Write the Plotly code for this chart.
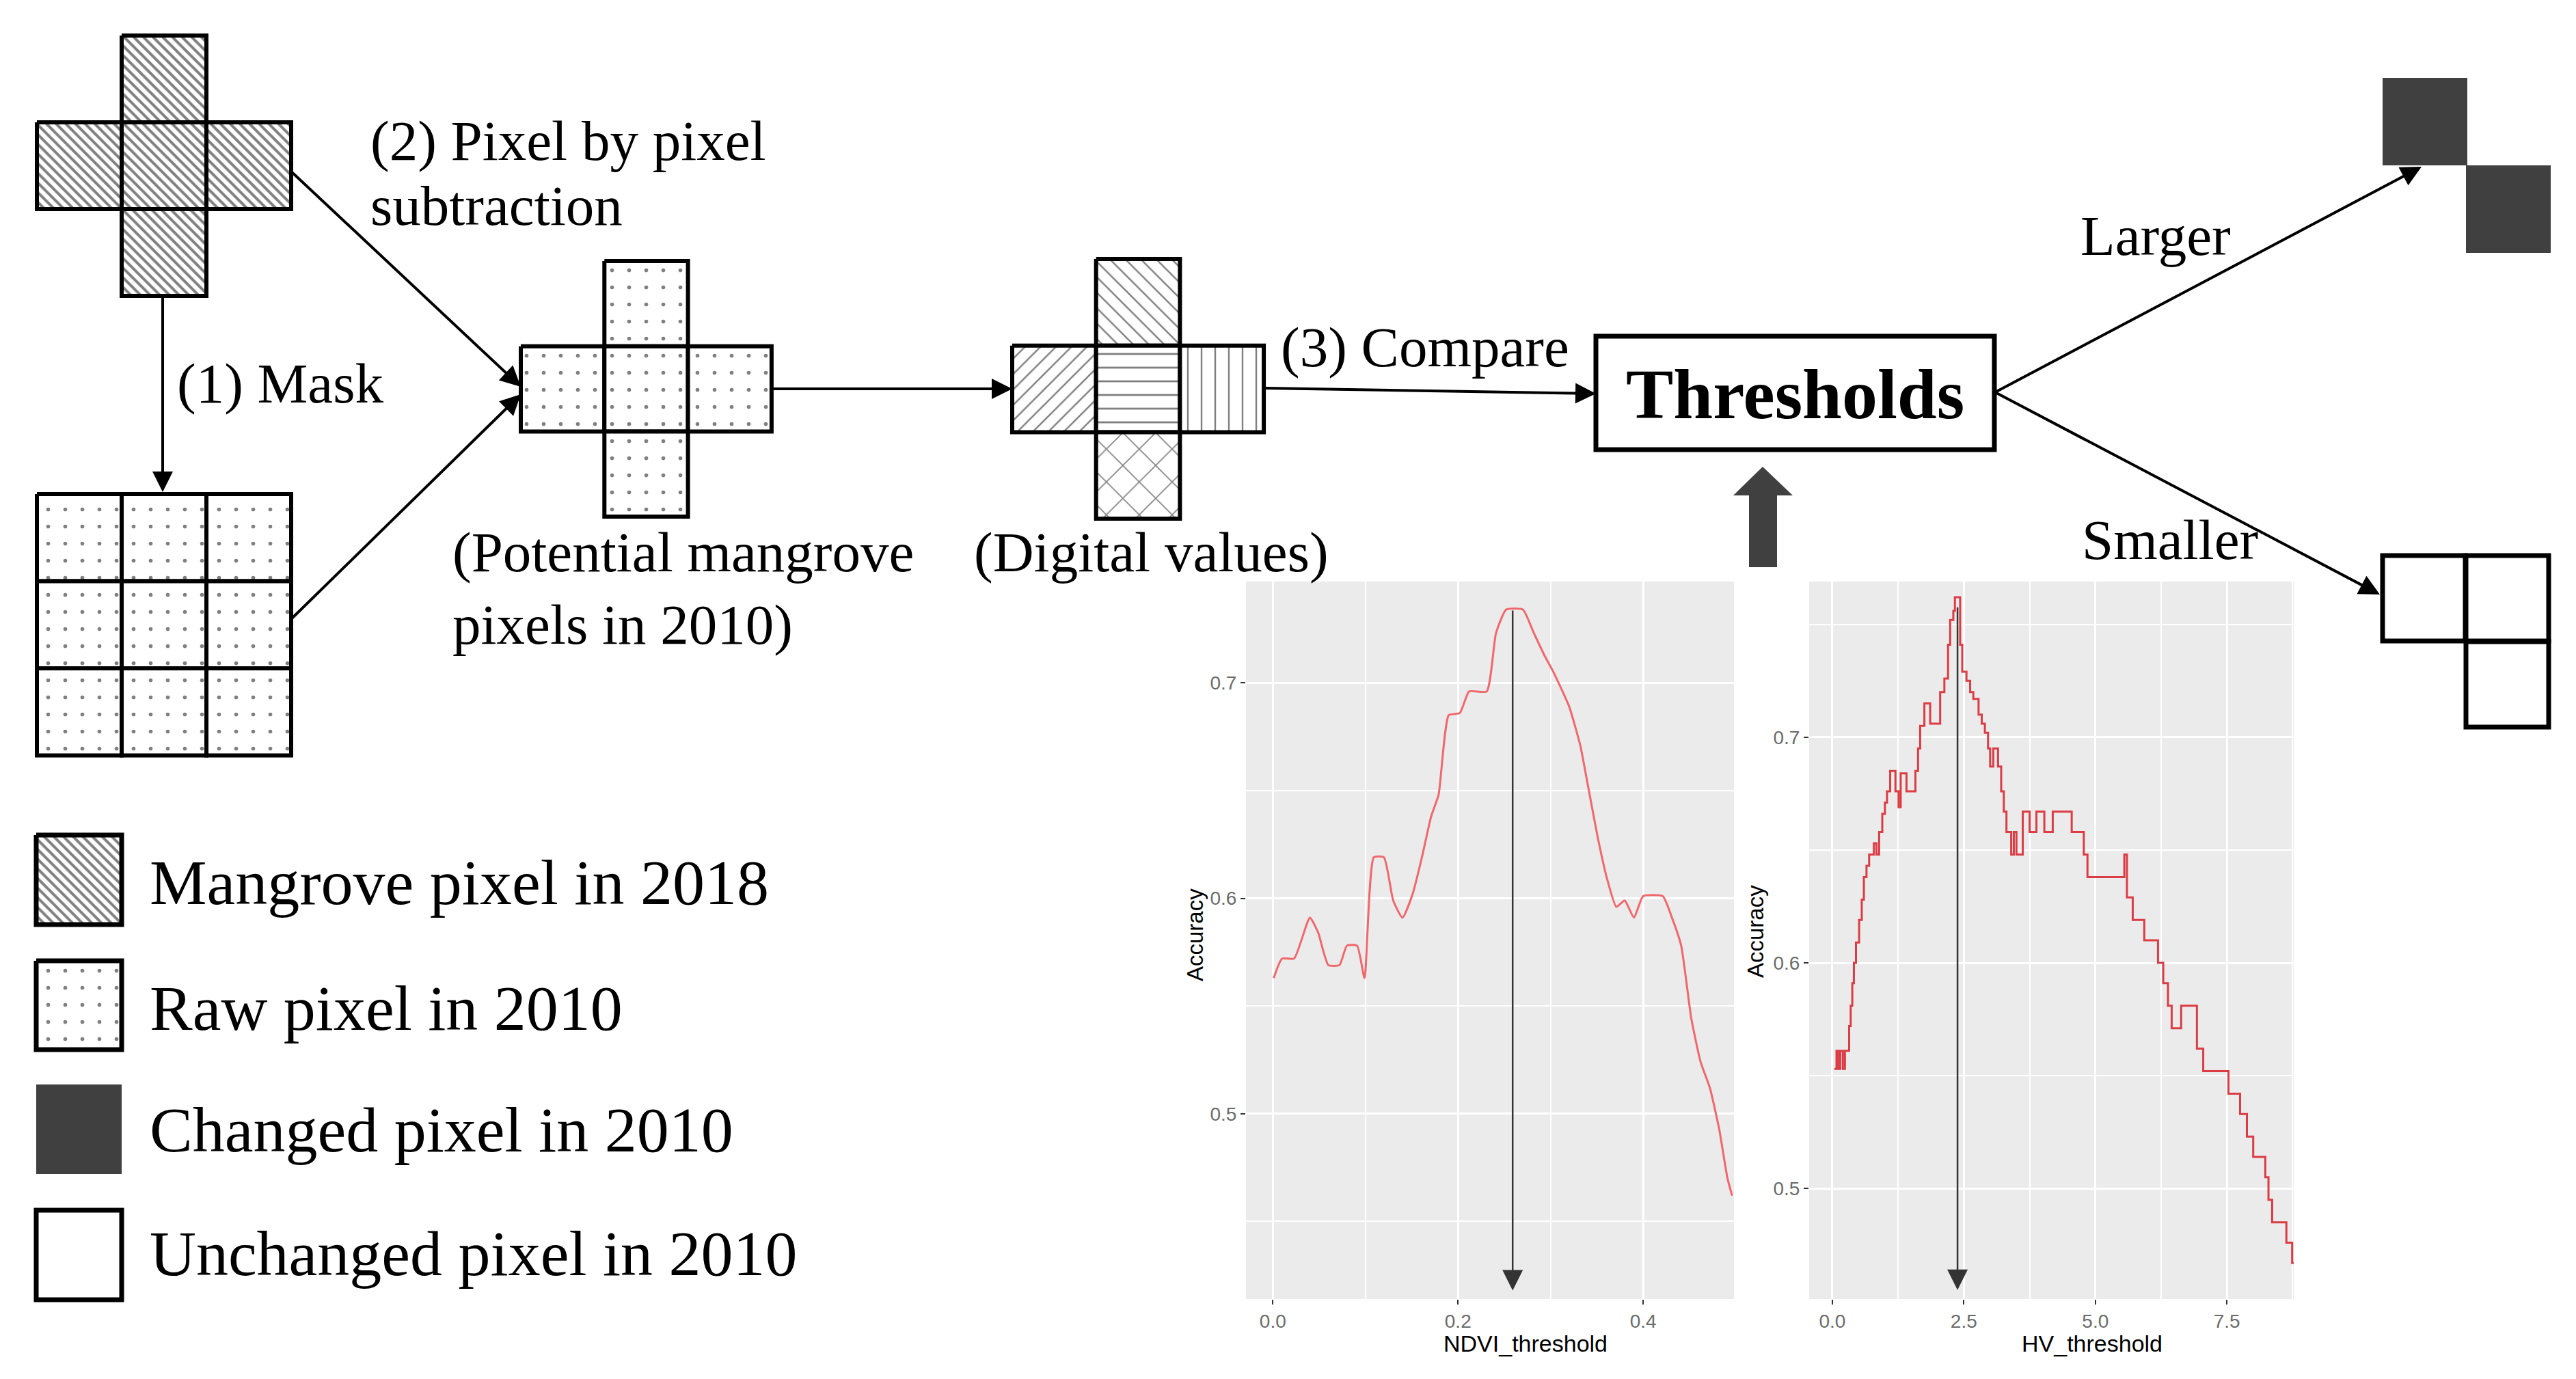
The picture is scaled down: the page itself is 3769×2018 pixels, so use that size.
import plotly.graph_objects as go

W, H = 3769, 2018

# ---- inset 1: accuracy vs NDVI threshold
ndvi_threshold = [0.001, 0.010, 0.023, 0.040, 0.049, 0.060, 0.072, 0.080, 0.091, 0.099,
                  0.109, 0.120, 0.130, 0.140, 0.151, 0.161, 0.171, 0.179, 0.190, 0.202,
                  0.212, 0.231, 0.241, 0.252, 0.270, 0.282, 0.293, 0.303, 0.320, 0.332,
                  0.340, 0.351, 0.361, 0.371, 0.380, 0.390, 0.400, 0.421, 0.431, 0.441,
                  0.452, 0.462, 0.472, 0.482, 0.491, 0.496]
ndvi_accuracy = [0.563, 0.572, 0.572, 0.591, 0.584, 0.569, 0.569, 0.578, 0.578, 0.563,
                 0.619, 0.619, 0.599, 0.591, 0.602, 0.619, 0.638, 0.648, 0.685, 0.686,
                 0.696, 0.696, 0.723, 0.734, 0.734, 0.723, 0.713, 0.705, 0.689, 0.671,
                 0.653, 0.628, 0.609, 0.596, 0.599, 0.591, 0.601, 0.601, 0.591, 0.578,
                 0.544, 0.524, 0.512, 0.493, 0.470, 0.462]
ndvi_best = 0.259
ndvi_peak = 0.734

# ---- inset 2: accuracy vs HV threshold (step line)
hv_threshold = [0.04, 0.08, 0.11, 0.15, 0.20, 0.24, 0.32, 0.35, 0.38, 0.41,
                0.45, 0.51, 0.56, 0.60, 0.65, 0.70, 0.79, 0.84, 0.89, 0.95,
                1.00, 1.04, 1.10, 1.20, 1.26, 1.30, 1.41, 1.58, 1.63, 1.67,
                1.75, 1.86, 2.05, 2.13, 2.20, 2.24, 2.30, 2.33, 2.43, 2.47,
                2.55, 2.62, 2.68, 2.78, 2.84, 2.90, 2.96, 3.00, 3.06, 3.15,
                3.21, 3.26, 3.31, 3.40, 3.45, 3.50, 3.62, 3.75, 3.88, 4.03,
                4.19, 4.55, 4.78, 4.85, 5.55, 5.60, 5.71, 5.93, 6.19, 6.29,
                6.38, 6.45, 6.63, 6.93, 7.05, 7.53, 7.75, 7.88, 8.00, 8.23,
                8.29, 8.36, 8.63, 8.74, 8.77]
hv_accuracy = [0.553, 0.561, 0.553, 0.561, 0.553, 0.561, 0.572, 0.581, 0.591, 0.600,
               0.609, 0.619, 0.628, 0.638, 0.643, 0.648, 0.653, 0.648, 0.658, 0.666,
               0.671, 0.676, 0.685, 0.676, 0.669, 0.684, 0.676, 0.685, 0.695, 0.705,
               0.715, 0.706, 0.720, 0.726, 0.741, 0.752, 0.756, 0.762, 0.741, 0.729,
               0.725, 0.720, 0.717, 0.710, 0.706, 0.702, 0.695, 0.687, 0.695, 0.687,
               0.676, 0.667, 0.658, 0.648, 0.658, 0.648, 0.667, 0.658, 0.667, 0.658,
               0.667, 0.658, 0.648, 0.638, 0.648, 0.629, 0.619, 0.610, 0.600, 0.591,
               0.581, 0.571, 0.581, 0.562, 0.552, 0.542, 0.533, 0.523, 0.514, 0.505,
               0.495, 0.485, 0.476, 0.467, 0.467]
hv_best = 2.38
hv_peak = 0.758

legend_labels = ["Mangrove pixel in 2018", "Raw pixel in 2010",
                 "Changed pixel in 2010", "Unchanged pixel in 2010"]

SERIF = "Liberation Serif, Times New Roman, serif"
SANS = "Liberation Sans, Arial, sans-serif"
DARK = "#404040"

PAT_MANGROVE = dict(shape="\\", size=10, solidity=0.4, fgcolor="black", bgcolor="white")
PAT_RAW = dict(shape=".", size=25, solidity=0.04, fgcolor="black", bgcolor="white")
PAT_DIGITAL = {
    (1, 0): dict(shape="\\", size=16, solidity=0.15, fgcolor="black", bgcolor="white"),
    (0, 1): dict(shape="/", size=16, solidity=0.15, fgcolor="black", bgcolor="white"),
    (1, 1): dict(shape="-", size=20, solidity=0.14, fgcolor="black", bgcolor="white"),
    (2, 1): dict(shape="|", size=20, solidity=0.12, fgcolor="black", bgcolor="white"),
    (1, 2): dict(shape="x", size=34, solidity=0.09, fgcolor="black", bgcolor="white"),
}

CROSS = [(1, 0), (0, 1), (1, 1), (2, 1), (1, 2)]
GRID = [(c, r) for r in range(3) for c in range(3)]

fig = go.Figure()


def add_cell(x0, y0, w, h, pattern, lw=6):
    fig.add_trace(go.Scatter(
        x=[x0, x0 + w, x0 + w, x0, x0], y=[y0, y0, y0 + h, y0 + h, y0],
        mode="lines", fill="toself", fillcolor="white", fillpattern=pattern,
        line=dict(color="black", width=lw), hoverinfo="skip", showlegend=False,
        xaxis="x", yaxis="y"))


def add_block(cells, x0, y0, w, h, pattern):
    for c, r in cells:
        pat = pattern[(c, r)] if (c, r) in pattern else pattern
        add_cell(x0 + c * w, y0 + r * h, w, h, pat)


# pixel blocks of the flow chart
add_block(CROSS, 46, 44, 124, 127, PAT_MANGROVE)        # mangrove 2018
add_block(GRID, 46, 715, 124, 127.5, PAT_RAW)           # raw 2010
add_block(CROSS, 754, 374, 122.3, 124.7, PAT_RAW)       # potential mangrove
add_block(CROSS, 1473, 371, 122.7, 126.7, PAT_DIGITAL)  # digital values

# legend pattern boxes
add_cell(45, 1214, 125, 131, PAT_MANGROVE, lw=7)
add_cell(45, 1398, 125, 130, PAT_RAW, lw=7)

# ---- insets
fig.add_trace(go.Scatter(x=ndvi_threshold, y=ndvi_accuracy, mode="lines",
                         line=dict(color="#f0676c", width=3, shape="spline", smoothing=0.5),
                         xaxis="x2", yaxis="y2", showlegend=False, hoverinfo="x+y"))
fig.add_trace(go.Scatter(x=hv_threshold, y=hv_accuracy, mode="lines", line_shape="hv",
                         line=dict(color="#dc3c44", width=3), xaxis="x3", yaxis="y3",
                         showlegend=False, hoverinfo="x+y"))

shapes = []
# gray ggplot panels
for ax in ["x2", "x3"]:
    ya = ax.replace("x", "y")
    shapes.append(dict(type="rect", xref=ax + " domain", yref=ya + " domain",
                       x0=0, x1=1, y0=0, y1=1, fillcolor="#ebebeb",
                       line=dict(width=0), layer="below"))
# thresholds box
shapes.append(dict(type="rect", xref="x", yref="y", x0=2327, x1=2910, y0=484, y1=650,
                   fillcolor="white", line=dict(color="black", width=7)))
# big upward arrow
shapes.append(dict(type="path", xref="x", yref="y",
                   path="M2551,822 L2551,717 L2528,717 L2571,675 L2615,717 L2592,717 L2592,822 Z",
                   fillcolor=DARK, line=dict(width=0)))
# changed pixels (dark) and unchanged pixels
for x0, y0 in [(3478, 106), (3600, 234)]:
    shapes.append(dict(type="rect", xref="x", yref="y", x0=x0, x1=x0 + 124, y0=y0, y1=y0 + 128,
                       fillcolor=DARK, line=dict(width=0)))
for x0, y0 in [(3478, 805), (3600, 805), (3600, 931)]:
    shapes.append(dict(type="rect", xref="x", yref="y", x0=x0, x1=x0 + 121, y0=y0, y1=y0 + 125,
                       fillcolor="white", line=dict(color="black", width=7)))
# legend solid boxes
shapes.append(dict(type="rect", xref="x", yref="y", x0=45, x1=170, y0=1579, y1=1710,
                   fillcolor=DARK, line=dict(width=0)))
shapes.append(dict(type="rect", xref="x", yref="y", x0=45, x1=170, y0=1763, y1=1894,
                   fillcolor="white", line=dict(color="black", width=7)))

annotations = []


def arrow(tail, tip, ref="x", width=4, size=1.5, color="black"):
    yref = ref.replace("x", "y")
    annotations.append(dict(x=tip[0], y=tip[1], ax=tail[0], ay=tail[1],
                            xref=ref, yref=yref, axref=ref, ayref=yref, text="",
                            showarrow=True, arrowhead=2, arrowsize=size,
                            arrowwidth=width, arrowcolor=color, standoff=0))


arrow((230, 424), (230, 712))
arrow((417, 242), (754, 558))
arrow((417, 899), (754, 569))
arrow((1121, 561), (1473, 561))
arrow((1841, 560), (2327, 568))
arrow((2911, 566), (3535, 236))
arrow((2911, 566), (3474, 862))
arrow((ndvi_best, ndvi_peak), (ndvi_best, 0.418), ref="x2", width=2.5, size=2.4, color="#333333")
arrow((hv_best, hv_peak), (hv_best, 0.455), ref="x3", width=2.5, size=2.4, color="#333333")


def label(text, x, y, size=83, xanchor="left", font=SERIF, angle=0):
    annotations.append(dict(text=text, x=x, y=y, xref="x", yref="y", xanchor=xanchor,
                            yanchor="middle", showarrow=False, textangle=angle,
                            font=dict(family=font, size=size, color="black")))


label("(2) Pixel by pixel", 532, 198)
label("subtraction", 532, 293)
label("(1) Mask", 249, 553)
label("(Potential mangrove", 652, 800)
label("pixels in 2010)", 652, 906)
label("(Digital values)", 1415, 800)
label("(3) Compare", 1864, 500)
label("<b>Thresholds</b>", 2618, 568, size=104, xanchor="center")
label("Larger", 3034, 337)
label("Smaller", 3036, 782)
for txt, yc in zip(legend_labels, [1283, 1467, 1645, 1826]):
    label(txt, 209, yc, size=94)
label("Accuracy", 1740, 1360, size=33, xanchor="center", font=SANS, angle=-90)
label("NDVI_threshold", 2224, 1958, size=34, xanchor="center", font=SANS)
label("Accuracy", 2560, 1355, size=33, xanchor="center", font=SANS, angle=-90)
label("HV_threshold", 3053, 1958, size=34, xanchor="center", font=SANS)

tick_style = dict(ticks="outside", ticklen=7, tickwidth=2, tickcolor="#333333",
                  tickfont=dict(family=SANS, size=28, color="#6b6b6b"),
                  showgrid=True, gridcolor="white", gridwidth=3, zeroline=False,
                  showline=False, fixedrange=True, tickformat=".1f", tickmode="linear")
minor_grid = dict(showgrid=True, gridcolor="white", gridwidth=1.5)

fig.update_layout(
    width=W, height=H, margin=dict(l=0, r=0, t=0, b=0),
    paper_bgcolor="white", plot_bgcolor="rgba(0,0,0,0)", showlegend=False,
    xaxis=dict(domain=[0, 1], range=[0, W], visible=False, fixedrange=True),
    yaxis=dict(domain=[0, 1], range=[H, 0], visible=False, fixedrange=True),
    xaxis2=dict(domain=[1815 / W, 2529 / W], anchor="y2", range=[-0.029, 0.498],
                tick0=0, dtick=0.2, minor=dict(dtick=0.1, tick0=0, **minor_grid), **tick_style),
    yaxis2=dict(domain=[1 - 1893 / H, 1 - 843 / H], anchor="x2", range=[0.414, 0.747],
                tick0=0.5, dtick=0.1, minor=dict(dtick=0.05, tick0=0.5, **minor_grid), **tick_style),
    xaxis3=dict(domain=[2639 / W, 3348 / W], anchor="y3", range=[-0.44, 8.77],
                tick0=0, dtick=2.5, minor=dict(dtick=1.25, tick0=0, **minor_grid), **tick_style),
    yaxis3=dict(domain=[1 - 1893 / H, 1 - 843 / H], anchor="x3", range=[0.451, 0.769],
                tick0=0.5, dtick=0.1, minor=dict(dtick=0.05, tick0=0.5, **minor_grid), **tick_style),
    shapes=shapes,
    annotations=annotations,
)

fig.write_html("out.html")
